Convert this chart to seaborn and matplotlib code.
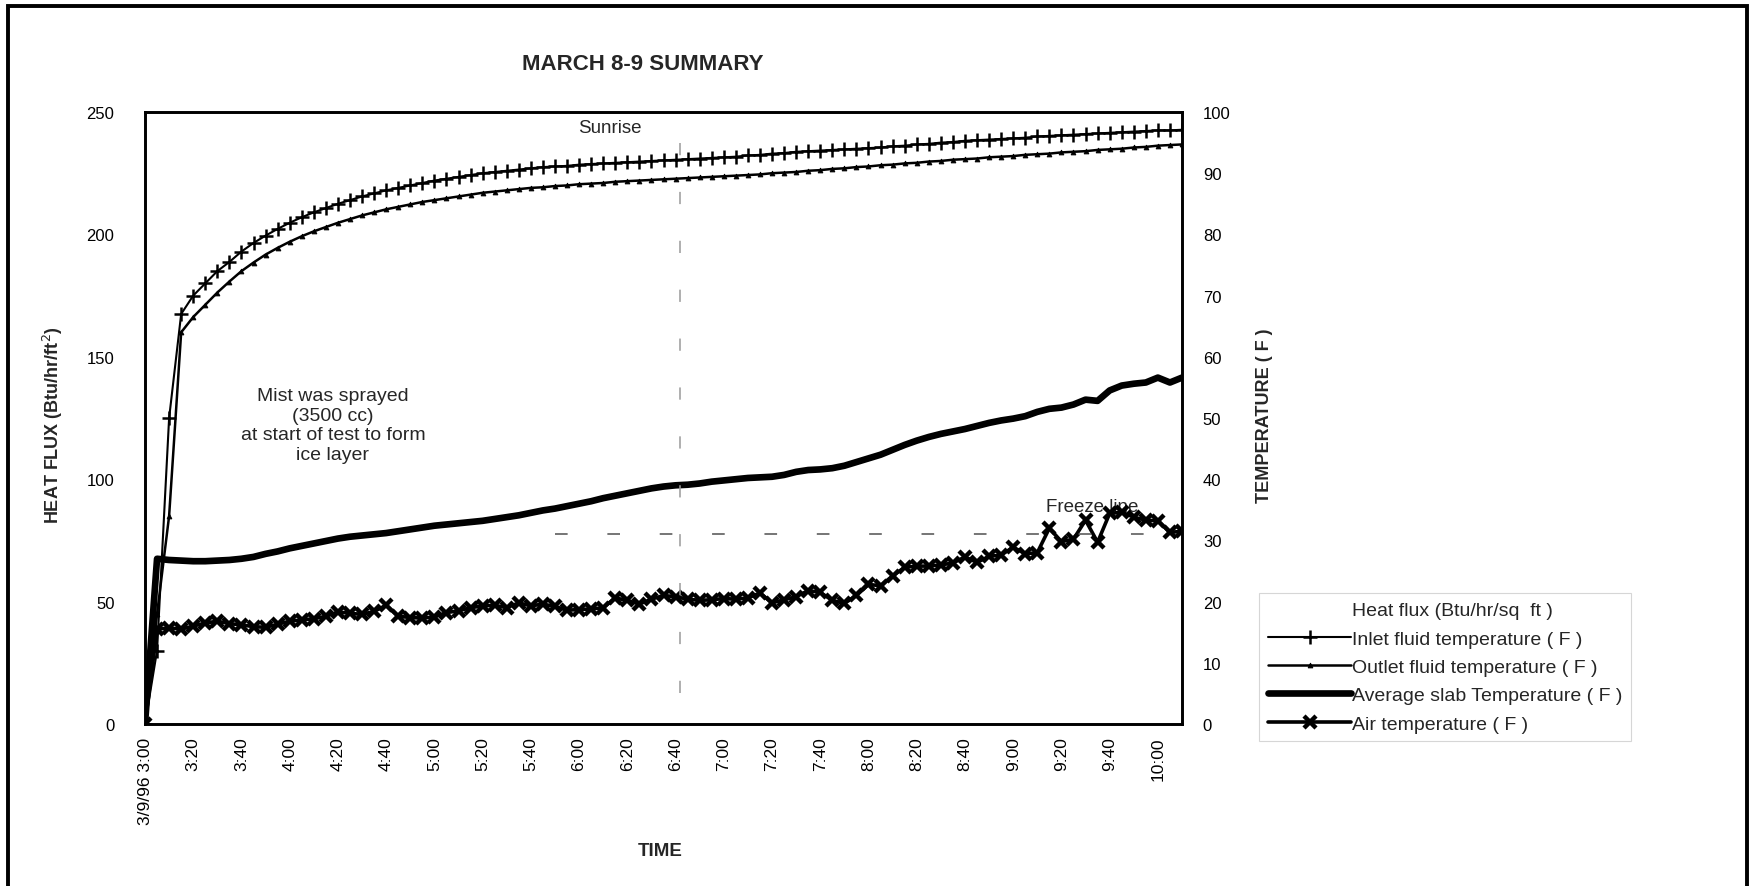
import numpy as np
import pandas as pd
import matplotlib
matplotlib.use("Agg")
import matplotlib.pyplot as plt
import seaborn as sns
from matplotlib.lines import Line2D
from matplotlib.patches import Rectangle

# ---------------- data ----------------
minutes = np.arange(0, 431, 5)  # minutes after 3:00 on 3/9/96

inlet = [0, 12, 50, 67, 70, 72, 74, 75.5, 77.2, 78.6,
         79.8, 80.9, 81.9, 82.8, 83.6, 84.3, 85, 85.6, 86.2, 86.7,
         87.2, 87.6, 88, 88.4, 88.8, 89.1, 89.4, 89.7, 90, 90.2,
         90.4, 90.6, 90.8, 91, 91.1, 91.2, 91.4, 91.5, 91.6, 91.7,
         91.8, 91.9, 92, 92.1, 92.2, 92.3, 92.4, 92.5, 92.6, 92.7,
         92.9, 93, 93.2, 93.3, 93.5, 93.6, 93.7, 93.8, 93.9, 94,
         94.1, 94.2, 94.4, 94.5, 94.7, 94.8, 95, 95.1, 95.3, 95.4,
         95.5, 95.6, 95.7, 95.8, 96, 96.1, 96.2, 96.3, 96.4, 96.5,
         96.6, 96.7, 96.8, 96.9, 97, 97, 97.1]

outlet = [0, 18, 34, 64, 66.5, 68.5, 70.5, 72.3, 74, 75.4,
          76.7, 77.8, 78.8, 79.7, 80.5, 81.2, 81.9, 82.5, 83.1, 83.6,
          84.1, 84.5, 84.9, 85.3, 85.6, 85.9, 86.2, 86.5, 86.8, 87,
          87.2, 87.4, 87.6, 87.7, 87.9, 88, 88.2, 88.3, 88.4, 88.6,
          88.7, 88.8, 88.9, 89, 89.1, 89.2, 89.3, 89.4, 89.5, 89.6,
          89.7, 89.8, 90, 90.1, 90.2, 90.4, 90.5, 90.7, 90.8, 91,
          91.1, 91.3, 91.4, 91.6, 91.7, 91.9, 92, 92.2, 92.3, 92.4,
          92.6, 92.7, 92.8, 93, 93.1, 93.2, 93.4, 93.5, 93.6, 93.8,
          93.9, 94, 94.2, 94.3, 94.5, 94.6, 94.7]

slab = [0, 27, 26.8, 26.7, 26.6, 26.6, 26.7, 26.8, 27, 27.3,
        27.8, 28.2, 28.7, 29.1, 29.5, 29.9, 30.3, 30.6, 30.8, 31,
        31.2, 31.5, 31.8, 32.1, 32.4, 32.6, 32.8, 33, 33.2, 33.5,
        33.8, 34.1, 34.5, 34.9, 35.2, 35.6, 36, 36.4, 36.9, 37.3,
        37.7, 38.1, 38.5, 38.8, 39, 39.1, 39.3, 39.6, 39.8, 40,
        40.2, 40.3, 40.4, 40.7, 41.2, 41.5, 41.6, 41.8, 42.2, 42.8,
        43.4, 44, 44.8, 45.6, 46.3, 46.9, 47.4, 47.8, 48.2, 48.7,
        49.2, 49.6, 49.9, 50.3, 51, 51.5, 51.7, 52.2, 53, 52.8,
        54.5, 55.3, 55.6, 55.8, 56.6, 55.8, 56.6]

air = [0, 15.5, 15.7, 15.5, 16, 16.5, 16.8, 16.4, 16.2, 15.9,
       15.8, 16.3, 16.8, 17, 17.2, 17.6, 18.3, 18.1, 17.9, 18.4,
       19.4, 17.6, 17.4, 17.3, 17.5, 18.2, 18.5, 19, 19.3, 19.4,
       19, 19.8, 19.3, 19.6, 19.2, 18.6, 18.7, 18.8, 19, 20.6,
       20.2, 19.6, 20.4, 21, 20.8, 20.4, 20.2, 20.3, 20.5, 20.4,
       20.6, 21.4, 19.8, 20.3, 20.8, 21.8, 21.5, 20.2, 19.7, 21,
       22.8, 22.6, 24.2, 25.6, 25.8, 25.8, 26, 26.3, 27.3, 26.4,
       27.4, 27.6, 28.9, 27.8, 28, 32, 29.8, 30.2, 33.3, 29.7,
       34.4, 34.6, 33.8, 33.3, 33.2, 31.3, 31.5]

tick_minutes = list(range(0, 421, 20))
tick_labels = ["3/9/96 3:00", "3:20", "3:40", "4:00", "4:20", "4:40", "5:00",
               "5:20", "5:40", "6:00", "6:20", "6:40", "7:00", "7:20", "7:40",
               "8:00", "8:20", "8:40", "9:00", "9:20", "9:40", "10:00"]
left_ticks = [0, 50, 100, 150, 200, 250]
right_ticks = [0, 10, 20, 30, 40, 50, 60, 70, 80, 90, 100]
sunrise_minute = 222
freeze_temp = 31

series_names = ["Heat flux (Btu/hr/sq  ft )",
                "Inlet fluid temperature ( F )",
                "Outlet fluid temperature ( F )",
                "Average slab Temperature ( F )",
                "Air temperature ( F )"]

df = pd.DataFrame({"minutes": minutes, "inlet": inlet, "outlet": outlet,
                   "slab": slab, "air": air})

# ---------------- style ----------------
sns.set_theme(style="white")
plt.rcParams["font.family"] = ["Liberation Sans", "DejaVu Sans"]

W, H = 1752, 887
fig = plt.figure(figsize=(W / 100, H / 100), dpi=100)
L, R, T, B = 145, 1182, 113, 725
ax = fig.add_axes([L / W, 1 - B / H, (R - L) / W, (B - T) / H])
ax2 = ax.twinx()

sns.lineplot(data=df, x="minutes", y="inlet", ax=ax2, color="black", lw=1.5,
             marker="+", markersize=10, markeredgewidth=1.8,
             markeredgecolor="black", label=series_names[1])
sns.lineplot(data=df, x="minutes", y="outlet", ax=ax2, color="black", lw=1.8,
             marker="^", markersize=3.5, markeredgewidth=0.6,
             markeredgecolor="black", label=series_names[2])
sns.lineplot(data=df, x="minutes", y="slab", ax=ax2, color="black", lw=4.8,
             label=series_names[3])
sns.lineplot(data=df, x="minutes", y="air", ax=ax2, color="black", lw=2.6,
             marker="x", markersize=8, markeredgewidth=3.2,
             markeredgecolor="black", label=series_names[4])

# reference lines
ax2.axvline(sunrise_minute, ymin=0.05, ymax=1, color="#9a9a9a", lw=1.1,
            ls=(0, (8, 24)))
ax2.hlines(freeze_temp, 170, 430, color="#6a6a6a", lw=1.3, ls=(0, (7, 22)))

# axes limits / ticks
ax.set_xlim(0, 430)
ax.set_ylim(0, 250)
ax2.set_ylim(0, 100)
ax.set_yticks(left_ticks)
ax.set_yticklabels([str(v) for v in left_ticks], fontsize=12)
ax2.set_yticks(right_ticks)
ax2.set_yticklabels([str(v) for v in right_ticks], fontsize=12)
ax.set_xticks(tick_minutes)
ax.set_xticklabels(tick_labels, rotation=90, fontsize=12.5)
ax.tick_params(axis="y", length=0, pad=22, colors="black")
ax2.tick_params(axis="y", length=0, pad=15, colors="black")
ax.tick_params(axis="x", length=0, pad=9, colors="black")

for a in (ax, ax2):
    for s in a.spines.values():
        s.set_color("black")
        s.set_linewidth(1.9)
ax.grid(False)
ax2.grid(False)

ax.set_xlabel("")
ax2.set_xlabel("")
ax.set_ylabel("HEAT FLUX (Btu/hr/ft$^2$)", fontsize=13, fontweight="bold")
ax.yaxis.set_label_coords((65 - L) / (R - L), 0.49)
ax2.set_ylabel("TEMPERATURE ( F )", fontsize=13, fontweight="bold")
ax2.yaxis.set_label_coords((1256 - L) / (R - L), 0.505)

# texts
fig.text(643 / W, 1 - 64 / H, "MARCH 8-9 SUMMARY", ha="center", va="center",
         fontsize=16, fontweight="bold")
fig.text(660 / W, 1 - 852 / H, "TIME", ha="center", va="center",
         fontsize=13.5, fontweight="bold")
ax.text((333 - L) / (R - L), 1 - (426 - T) / (B - T),
        "Mist was sprayed\n(3500 cc)\nat start of test to form\nice layer",
        transform=ax.transAxes, ha="center", va="center", fontsize=14,
        linespacing=1.2)
ax.text((610 - L) / (R - L), 1 - (129 - T) / (B - T), "Sunrise",
        transform=ax.transAxes, ha="center", va="center", fontsize=13.5)
ax.text((1092 - L) / (R - L), 1 - (507 - T) / (B - T), "Freeze line",
        transform=ax.transAxes, ha="center", va="center", fontsize=13.5)

# legend
lg = ax2.get_legend()
if lg is not None:
    lg.remove()
h2, l2 = ax2.get_legend_handles_labels()
heat_handle = Line2D([], [], color="none")
handles = [heat_handle] + h2[:4]
labels = [series_names[0]] + l2[:4]
leg = fig.legend(handles, labels, loc="upper left",
                 bbox_to_anchor=(1259 / W, 1 - 594 / H), fontsize=14,
                 frameon=True, fancybox=False, edgecolor="#cccccc",
                 handlelength=4.3, handletextpad=0.05, labelspacing=0.55,
                 borderpad=0.45, borderaxespad=0, numpoints=1)
leg.get_frame().set_linewidth(0.8)

# outer border of the figure
fig.add_artist(Rectangle((8 / W, -0.05), (1747 - 8) / W, 1.05 - 7 / H,
                         transform=fig.transFigure, fill=False,
                         lw=2.8, ec="black"))

fig.savefig("out.png", dpi=100)
